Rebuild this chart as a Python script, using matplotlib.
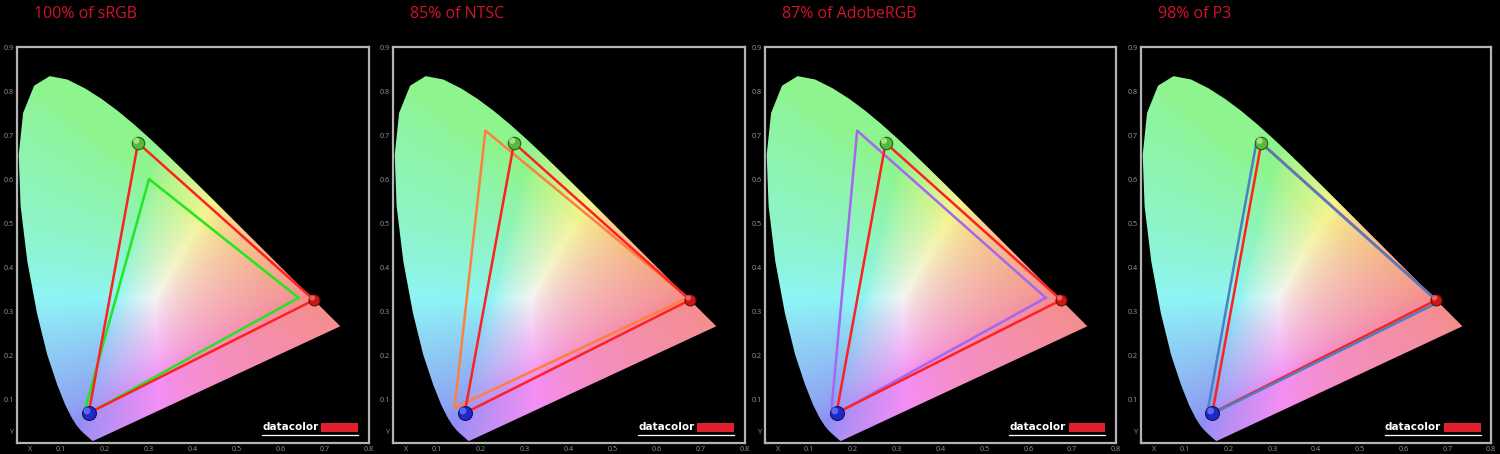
import numpy as np
import matplotlib
matplotlib.use("Agg")
import matplotlib.pyplot as plt
from matplotlib.patches import Polygon, Rectangle

plt.rcParams['font.family'] = ['Open Sans', 'DejaVu Sans']

# ---------------- data ----------------
titles = ["100% of sRGB", "85% of NTSC", "87% of AdobeRGB", "98% of P3"]

# CIE 1931 spectral locus (x, y), 380-700 nm
locus_x = [0.1741, 0.1740, 0.1738, 0.1736, 0.1733, 0.1730, 0.1726, 0.1721, 0.1714, 0.1703,
           0.1689, 0.1669, 0.1644, 0.1611, 0.1566, 0.1510, 0.1440, 0.1355, 0.1241, 0.1096,
           0.0913, 0.0687, 0.0454, 0.0235, 0.0082, 0.0039, 0.0139, 0.0389, 0.0743, 0.1142,
           0.1547, 0.1929, 0.2296, 0.2658, 0.3016, 0.3373, 0.3731, 0.4087, 0.4441, 0.4788,
           0.5125, 0.5448, 0.5752, 0.6029, 0.6270, 0.6482, 0.6658, 0.6801, 0.6915, 0.7006,
           0.7079, 0.7140, 0.7190, 0.7230, 0.7260, 0.7283, 0.7300, 0.7311, 0.7320, 0.7327,
           0.7334, 0.7344, 0.7347]
locus_y = [0.0050, 0.0050, 0.0049, 0.0049, 0.0048, 0.0048, 0.0048, 0.0048, 0.0051, 0.0058,
           0.0069, 0.0086, 0.0109, 0.0138, 0.0177, 0.0227, 0.0297, 0.0399, 0.0578, 0.0868,
           0.1327, 0.2007, 0.2950, 0.4127, 0.5384, 0.6548, 0.7502, 0.8120, 0.8338, 0.8262,
           0.8059, 0.7816, 0.7543, 0.7243, 0.6923, 0.6589, 0.6245, 0.5896, 0.5547, 0.5202,
           0.4866, 0.4544, 0.4242, 0.3965, 0.3725, 0.3514, 0.3340, 0.3197, 0.3083, 0.2993,
           0.2920, 0.2859, 0.2809, 0.2770, 0.2740, 0.2717, 0.2700, 0.2689, 0.2680, 0.2673,
           0.2666, 0.2656, 0.2653]

# measured display primaries (R, G, B)
display_x = [0.675, 0.275, 0.163]
display_y = [0.325, 0.682, 0.068]

# reference gamuts (R, G, B)
ref_x = [[0.64, 0.30, 0.15],   # sRGB
         [0.67, 0.21, 0.14],   # NTSC
         [0.64, 0.21, 0.15],   # AdobeRGB
         [0.68, 0.265, 0.15]]  # P3
ref_y = [[0.33, 0.60, 0.06],
         [0.33, 0.71, 0.08],
         [0.33, 0.71, 0.06],
         [0.32, 0.69, 0.06]]
ref_colors = ['#22e622', '#ff7f3f', '#a666f2', '#4a80c4']

xticks = [0.03, 0.1, 0.2, 0.3, 0.4, 0.5, 0.6, 0.7, 0.8]
xticklabels = ['X', '0.1', '0.2', '0.3', '0.4', '0.5', '0.6', '0.7', '0.8']
yticks = [0.027, 0.1, 0.2, 0.3, 0.4, 0.5, 0.6, 0.7, 0.8, 0.9]
yticklabels = ['Y', '0.1', '0.2', '0.3', '0.4', '0.5', '0.6', '0.7', '0.8', '0.9']

# ---------------- layout ----------------
W, H = 1500, 454
fig = plt.figure(figsize=(W / 100, H / 100), dpi=100, facecolor='black')
lefts = [17, 393, 765, 1141]
widths = [352, 352, 351, 350]
top_px, bot_px = 47, 443

# colour field
nx, ny = 640, 720
gx = np.linspace(0, 0.8, nx)
gy = np.linspace(0.001, 0.9, ny)
XX, YY = np.meshgrid(gx, gy)
Xc = XX / YY
Yc = np.ones_like(XX)
Zc = (1 - XX - YY) / YY
M = np.array([[3.2406, -1.5372, -0.4986],
              [-0.9689, 1.8758, 0.0415],
              [0.0557, -0.2040, 1.0570]])
rgb = np.stack([M[i, 0] * Xc + M[i, 1] * Yc + M[i, 2] * Zc for i in range(3)], axis=-1)
rgb = np.clip(rgb, 0, None)
rgb = rgb / np.maximum(rgb.max(axis=-1, keepdims=True), 1e-9)
rgb = rgb ** (1 / 1.5)
img = np.clip(0.56 + 0.40 * rgb, 0, 1)

for i in range(4):
    ax = fig.add_axes([lefts[i] / W, (H - bot_px) / H, widths[i] / W, (bot_px - top_px) / H])
    ax.set_facecolor('black')
    ax.set_xlim(0, 0.8)
    ax.set_ylim(0, 0.9)
    for s in ax.spines.values():
        s.set_color('#b4b4b4')
        s.set_linewidth(1.6)
    ax.set_xticks(np.arange(0.1, 0.8, 0.1), minor=True)
    ax.set_yticks(np.arange(0.1, 0.9, 0.1), minor=True)
    ax.grid(which='minor', color='#6a6a6a', linewidth=0.8, zorder=0.5)
    ax.set_axisbelow(True)
    ax.set_xticks(xticks, xticklabels)
    ax.set_yticks(yticks, yticklabels)
    ax.tick_params(which='both', length=0, colors='#9a9a9a', labelsize=5.2, pad=2)

    im = ax.imshow(img, origin='lower', extent=(0, 0.8, 0.001, 0.9), aspect='auto',
                   interpolation='bilinear', zorder=1)
    poly = Polygon(np.column_stack([locus_x, locus_y]), closed=True,
                   transform=ax.transData, facecolor='none', edgecolor='none')
    ax.add_patch(poly)
    im.set_clip_path(poly)

    rx = ref_x[i] + [ref_x[i][0]]
    ry = ref_y[i] + [ref_y[i][0]]
    dx = display_x + [display_x[0]]
    dy = display_y + [display_y[0]]
    if i == 3:
        ax.plot(dx, dy, color='#ff2020', lw=1.8, zorder=3)
        ax.plot(rx, ry, color=ref_colors[i], lw=1.8, zorder=3.5)
    else:
        ax.plot(rx, ry, color=ref_colors[i], lw=1.8, zorder=3)
        ax.plot(dx, dy, color='#ff2020', lw=1.8, zorder=3.5)

    # glossy primary balls
    ball_fc = ['#c81818', '#58b83c', '#2028c8']
    ball_ec = ['#6a0c0c', '#2a5e1c', '#10105e']
    ball_s = [62, 80, 100]
    ball_hi = ['#ff7070', '#b8f090', '#6a78ff']
    for k in range(3):
        ax.scatter([display_x[k]], [display_y[k]], s=ball_s[k], c=ball_fc[k],
                   edgecolors=ball_ec[k], linewidths=0.8, zorder=5)
        ax.scatter([display_x[k] - 0.004], [display_y[k] + 0.005], s=ball_s[k] * 0.25,
                   c=ball_hi[k], edgecolors='none', alpha=0.8, zorder=6)

    # datacolor logo
    ax.text(0.557, 0.036, 'datacolor', color='white', fontsize=7.5, fontweight='bold',
            family=['DejaVu Sans'], va='center', ha='left', zorder=7)
    ax.add_patch(Rectangle((0.692, 0.025), 0.084, 0.020, facecolor='#e0202c',
                           edgecolor='none', zorder=7))
    ax.plot([0.557, 0.776], [0.018, 0.018], color='white', lw=0.9, zorder=7)

    fig.text((lefts[i] + 17) / W, 1 - 14 / H, titles[i], color='#d0142a',
             fontsize=11.5, va='center', ha='left')

fig.savefig('out.png', dpi=100, facecolor='black')
